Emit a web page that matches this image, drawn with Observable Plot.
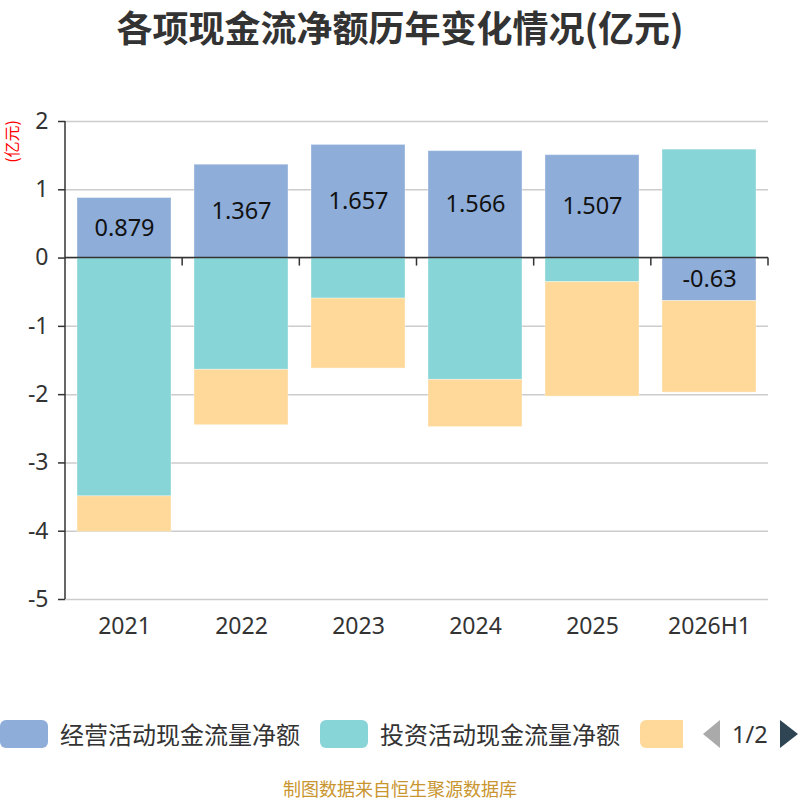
<!DOCTYPE html>
<html>
<head>
<meta charset="utf-8">
<script src="https://cdn.jsdelivr.net/npm/d3@7"></script>
<script src="https://cdn.jsdelivr.net/npm/@observablehq/plot@0.6"></script>
<style>
  html, body { margin: 0; padding: 0; background: #fff; }
  #root { position: relative; width: 800px; height: 800px; overflow: hidden; font-family: "Noto Sans", "Noto Sans CJK SC", sans-serif; }
  #title { position: absolute; top: 0; left: 0; width: 800px; height: 54px; line-height: 52px; text-align: center; font-family: "Noto Sans CJK SC", sans-serif; font-weight: bold; font-size: 36px; color: #333; }
  #ylabel { position: absolute; left: 2px; top: 120px; font-family: "Noto Sans CJK SC", sans-serif; font-size: 16px; line-height: 18px; color: #ff0000; writing-mode: vertical-rl; transform: rotate(180deg); }
  #chart { position: absolute; top: 60px; left: 0; }
  #legend { position: absolute; top: 712px; left: 0; width: 683px; height: 44px; overflow: hidden; white-space: nowrap; display: flex; align-items: center; }
  .item { display: flex; align-items: center; margin-right: 20px; flex: none; }
  .sw { width: 48px; height: 28px; border-radius: 6px; flex: none; }
  .lab { font-family: "Noto Sans CJK SC", sans-serif; font-size: 24px; color: #333; line-height: 34px; margin-left: 12px; }
  #pager { position: absolute; top: 720px; left: 703px; height: 28px; display: flex; align-items: center; }
  #pager .txt { font-family: "Noto Sans", sans-serif; font-size: 23.5px; color: #333; margin: 0 12px 0 12px; line-height: 28px; }
  #footer { position: absolute; top: 777px; left: 0; width: 800px; height: 22px; line-height: 22px; text-align: center; font-family: "Noto Sans CJK SC", sans-serif; font-size: 18px; color: #c9952f; }
</style>
</head>
<body>
<div id="root">
  <div id="title">各项现金流净额历年变化情况(亿元)</div>
  <div id="ylabel"><span style="text-orientation: sideways;">(亿元)</span></div>
  <div id="chart"></div>
  <div id="legend"></div>
  <div id="pager">
    <svg width="17" height="28"><polygon points="17,0 17,28 0,14" fill="#aaaaaa"/></svg>
    <span class="txt">1/2</span>
    <svg width="18" height="28"><polygon points="0,0 0,28 18,14" fill="#2f4554"/></svg>
  </div>
  <div id="footer">制图数据来自恒生聚源数据库</div>
</div>
<script>
const categories = ["2021", "2022", "2023", "2024", "2025", "2026H1"];
const seriesNames = ["经营活动现金流量净额", "投资活动现金流量净额", "筹资活动现金流量净额"];
const seriesColors = ["#8eadd9", "#88d5d8", "#fed99a"];
const operating = [0.879, 1.367, 1.657, 1.566, 1.507, -0.63];
const investing = [-3.49, -1.637, -0.593, -1.784, -0.353, 1.588];
const financing = [-0.52, -0.81, -1.025, -0.691, -1.676, -1.34];
const yTicks = [-5, -4, -3, -2, -1, 0, 1, 2];
// legend page 1 shows the first two labels; the third item's label is cut off by the pager
const legendLabelsShown = 2;

const seriesValues = [operating, investing, financing];
const data = [];
seriesValues.forEach((vals, s) => {
  vals.forEach((v, i) => data.push({year: categories[i], series: seriesNames[s], value: v}));
});
const opData = operating.map((v, i) => ({year: categories[i], value: v}));

const W = 800, H = 600;
const mL = 65, mR = 32, mT = 61, mB = 61;
const padInner = 0.2, padOuter = 0.1;

// axis lines and category boundary ticks at zero
function axisDecor(index, scales, values, dims) {
  const band = d3.scaleBand(categories, [dims.marginLeft, dims.width - dims.marginRight])
    .paddingInner(padInner).paddingOuter(padOuter);
  const step = band.step();
  const y0 = scales.y(0);
  const g = d3.create("svg:g");
  g.append("line")
    .attr("x1", dims.marginLeft).attr("x2", dims.marginLeft)
    .attr("y1", dims.marginTop).attr("y2", dims.height - dims.marginBottom)
    .attr("stroke", "#333").attr("stroke-width", 1.5);
  g.append("line")
    .attr("x1", dims.marginLeft).attr("x2", dims.width - dims.marginRight)
    .attr("y1", y0).attr("y2", y0)
    .attr("stroke", "#333").attr("stroke-width", 1.5);
  categories.forEach((c) => {
    const xb = band(c) + band.bandwidth() + step * padInner / 2;
    g.append("line")
      .attr("x1", xb).attr("x2", xb)
      .attr("y1", y0).attr("y2", y0 + 8)
      .attr("stroke", "#333").attr("stroke-width", 1.5);
  });
  return g.node();
}

const chart = Plot.plot({
  width: W,
  height: H,
  marginLeft: mL,
  marginRight: mR,
  marginTop: mT,
  marginBottom: mB,
  style: {fontFamily: '"Noto Sans", "Noto Sans CJK SC", sans-serif', background: "transparent", overflow: "visible"},
  x: {domain: categories, paddingInner: padInner, paddingOuter: padOuter, label: null},
  y: {domain: [-5, 2], label: null},
  color: {domain: seriesNames, range: seriesColors},
  marks: [
    Plot.gridY(yTicks, {stroke: "#cccccc", strokeOpacity: 1, strokeWidth: 1.5}),
    Plot.barY(data, {x: "year", y: "value", fill: "series", order: seriesNames, stroke: "#ffffff", strokeOpacity: 0.35, strokeWidth: 1}),
    Plot.text(opData, {x: "year", y: d => d.value / 2, text: d => String(d.value), fontSize: 23.5, fill: "#111"}),
    Plot.axisY({ticks: yTicks, tickSize: 7, tickPadding: 10, tickFormat: d => String(d), fontSize: 23, color: "#333", stroke: "#333", strokeWidth: 1.5, label: null}),
    Plot.axisX({tickSize: 0, tickPadding: 18, fontSize: 23, color: "#333", label: null}),
    axisDecor
  ]
});
document.getElementById("chart").appendChild(chart);

const legend = document.getElementById("legend");
seriesNames.forEach((name, i) => {
  const item = document.createElement("div");
  item.className = "item";
  const sw = document.createElement("div");
  sw.className = "sw";
  sw.style.background = seriesColors[i];
  item.appendChild(sw);
  if (i < legendLabelsShown) {
    const lab = document.createElement("span");
    lab.className = "lab";
    lab.textContent = name;
    item.appendChild(lab);
  }
  legend.appendChild(item);
});
</script>
</body>
</html>
